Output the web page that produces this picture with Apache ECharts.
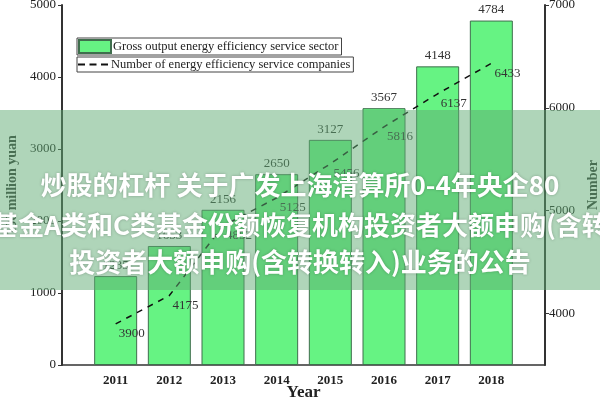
<!DOCTYPE html>
<html>
<head>
<meta charset="utf-8">
<script src="https://cdn.jsdelivr.net/npm/echarts@6/dist/echarts.min.js"></script>
<style>
  html, body { margin: 0; padding: 0; background: #fff; }
  #main { width: 600px; height: 400px; }
</style>
</head>
<body>
<div id="main"></div>
<script>
// 数据
var years = [2011, 2012, 2013, 2014, 2015, 2016, 2017, 2018];
var grossOutput = [1235, 1653, 2156, 2650, 3127, 3567, 4148, 4784];
var companies = [3900, 4175, 4852, 5125, 5456, 5816, 6137, 6433];
var leftTicks = [0, 1000, 2000, 3000, 4000, 5000];
var rightTicks = [4000, 5000, 6000, 7000];
var bannerLines = [
  '炒股的杠杆 关于广发上海清算所0-4年央企80',
  '基金A类和C类基金份额恢复机构投资者大额申购(含转',
  '投资者大额申购(含转换转入)业务的公告'
];

var serif = 'Liberation Serif, Times New Roman, serif';
var barName = 'Gross output energy efficiency service sector';
var lineName = 'Number of energy efficiency service companies';

var barData = [];
var lineData = [];
for (var i = 0; i < years.length; i++) {
  barData.push([years[i], grossOutput[i]]);
  lineData.push([years[i], companies[i]]);
}

function plain(v) { return String(v); }

var chart = echarts.init(document.getElementById('main'), null, { renderer: 'canvas' });

var option = {
  backgroundColor: '#fff',
  animation: false,
  grid: { left: 62, right: 55, top: 5, bottom: 35, containLabel: false, outerBoundsMode: 'none' },
  legend: [
    {
      data: [{ name: barName, icon: 'rect' }],
      left: 77, top: 38,
      borderColor: '#444', borderWidth: 1, borderRadius: 0,
      padding: [1, 3, 1, 1],
      itemWidth: 32, itemHeight: 13, itemGap: 0,
      textStyle: { fontFamily: serif, fontSize: 12.5, color: '#222', padding: [0, 0, 0, -3] }
    },
    {
      data: [{ name: lineName, icon: 'path://M0,0h7v2h-7z M11.5,0h7v2h-7z M23,0h7v2h-7z' }],
      left: 77, top: 57,
      borderColor: '#444', borderWidth: 1, borderRadius: 0,
      padding: [1, 3, 1, 1],
      itemWidth: 30, itemHeight: 2, itemGap: 0,
      itemStyle: { color: '#111' },
      textStyle: { fontFamily: serif, fontSize: 12.5, color: '#222', padding: [0, 0, 0, -2] }
    }
  ],
  xAxis: {
    type: 'value',
    min: 2010, max: 2019, interval: 1,
    name: 'Year',
    nameLocation: 'middle',
    nameGap: 19,
    nameMoveOverlap: false,
    nameTextStyle: { fontFamily: serif, fontSize: 17, fontWeight: 'bold', color: '#222' },
    axisLine: { lineStyle: { color: '#333', width: 1.5 } },
    axisTick: { inside: true, length: 4, lineStyle: { color: '#333' } },
    axisLabel: {
      fontFamily: serif, fontSize: 13, fontWeight: 'bold', color: '#222', margin: 9,
      formatter: function (v) {
        return (v >= 2011 && v <= 2018) ? String(v) : '';
      }
    },
    splitLine: { show: false }
  },
  yAxis: [
    {
      type: 'value',
      min: 0, max: 5000, interval: 1000,
      name: '100 million yuan',
      nameLocation: 'middle',
      nameRotate: 90,
      nameGap: 43,
      nameMoveOverlap: false,
      nameTextStyle: { fontFamily: serif, fontSize: 14, fontWeight: 'bold', color: '#333' },
      axisLine: { show: true, lineStyle: { color: '#333', width: 2 } },
      axisTick: { show: true, length: 4, lineStyle: { color: '#333' } },
      axisLabel: { fontFamily: serif, fontSize: 13, color: '#222', margin: 6, formatter: plain },
      splitLine: { show: false }
    },
    {
      type: 'value',
      min: 3500, max: 7000,
      name: 'Number',
      nameLocation: 'middle',
      nameRotate: 90,
      nameGap: 41,
      nameMoveOverlap: false,
      nameTextStyle: { fontFamily: serif, fontSize: 14, fontWeight: 'bold', color: '#333' },
      axisLine: { show: true, lineStyle: { color: '#333', width: 2 } },
      axisTick: { show: true, length: 4, customValues: rightTicks, lineStyle: { color: '#333' } },
      axisLabel: { fontFamily: serif, fontSize: 13, color: '#222', margin: 4, customValues: rightTicks, formatter: plain },
      splitLine: { show: false }
    }
  ],
  series: [
    {
      name: barName,
      type: 'bar',
      yAxisIndex: 0,
      data: barData,
      barWidth: 43,
      itemStyle: { color: '#66f383', borderColor: '#3f6e4d', borderWidth: 1 },
      label: {
        show: true, position: 'top', distance: 4,
        fontFamily: serif, fontSize: 13, color: '#333',
        formatter: function (p) { return p.value[1]; }
      }
    },
    {
      name: lineName,
      type: 'line',
      yAxisIndex: 1,
      data: lineData,
      symbol: 'circle',
      symbolSize: 0.1,
      showSymbol: true,
      lineStyle: { color: '#111', width: 1.5, type: [6, 6] },
      itemStyle: { color: '#111' },
      label: {
        show: true, position: 'right', distance: 3, offset: [0, 10],
        fontFamily: serif, fontSize: 13, color: '#333',
        formatter: function (p) { return p.value[1]; }
      },
      z: 5
    }
  ],
  // 上面的半透明横幅
  graphic: [
    {
      type: 'rect', z: 100,
      shape: { x: 0, y: 110, width: 600, height: 180 },
      style: { fill: 'rgba(95,172,115,0.5)' }
    },
    {
      type: 'text', z: 101, x: 300, y: 185,
      style: {
        text: bannerLines[0], fill: '#fff', align: 'center', verticalAlign: 'middle',
        font: 'bold 26px "Noto Sans CJK SC"',
        textShadowColor: 'rgba(0,0,0,0.25)', textShadowBlur: 3
      }
    },
    {
      type: 'text', z: 101, x: 300, y: 225,
      style: {
        text: bannerLines[1], fill: '#fff', align: 'center', verticalAlign: 'middle',
        font: 'bold 26px "Noto Sans CJK SC"',
        textShadowColor: 'rgba(0,0,0,0.25)', textShadowBlur: 3
      }
    },
    {
      type: 'text', z: 101, x: 300, y: 262,
      style: {
        text: bannerLines[2], fill: '#fff', align: 'center', verticalAlign: 'middle',
        font: 'bold 26px "Noto Sans CJK SC"',
        textShadowColor: 'rgba(0,0,0,0.25)', textShadowBlur: 3
      }
    }
  ]
};

chart.setOption(option);
</script>
</body>
</html>
